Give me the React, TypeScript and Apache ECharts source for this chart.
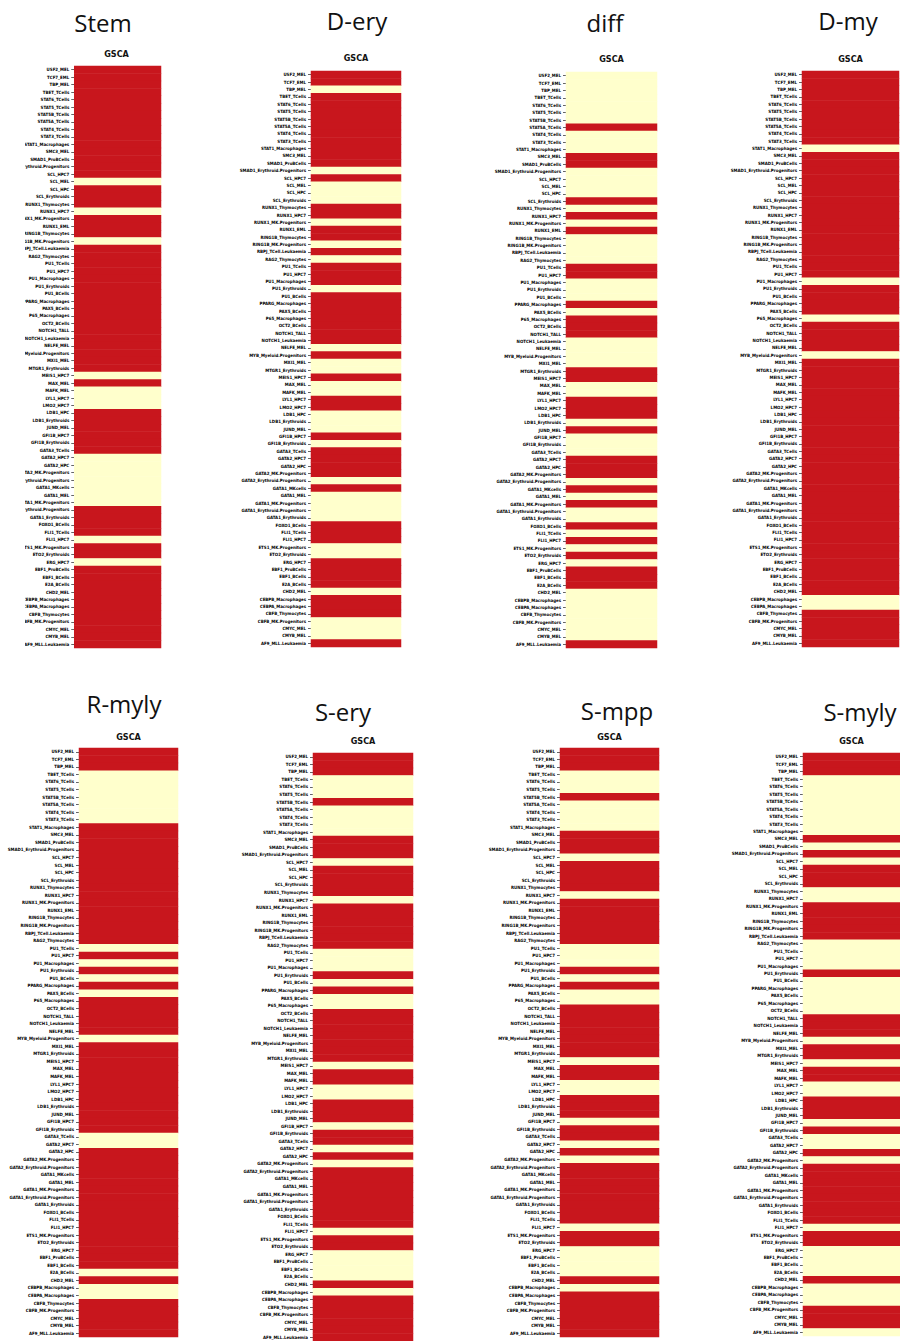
import React, { useEffect, useRef } from "react";
import * as echarts from "echarts";

// Row labels (top to bottom)
const rowLabels = [
  "USF2_MEL", "TCF7_EML", "TBP_MEL", "TBET_TCells", "STAT6_TCells", "STAT5_TCells",
  "STAT5B_TCells", "STAT5A_TCells", "STAT4_TCells", "STAT3_TCells", "STAT1_Macrophages",
  "SMC3_MEL", "SMAD1_ProBCells", "SMAD1_Erythroid.Progenitors", "SCL_HPC7", "SCL_MEL",
  "SCL_HPC", "SCL_Erythroids", "RUNX1_Thymocytes", "RUNX1_HPC7", "RUNX1_MK.Progenitors",
  "RUNX1_EML", "RING1B_Thymocytes", "RING1B_MK.Progenitors", "RBPJ_TCell.Leukaemia",
  "RAG2_Thymocytes", "PU1_TCells", "PU1_HPC7", "PU1_Macrophages", "PU1_Erythroids",
  "PU1_BCells", "PPARG_Macrophages", "PAX5_BCells", "P65_Macrophages", "OCT2_BCells",
  "NOTCH1_TALL", "NOTCH1_Leukaemia", "NELFE_MEL", "MYB_Myeloid.Progenitors", "MXI1_MEL",
  "MTGR1_Erythroids", "MEIS1_HPC7", "MAX_MEL", "MAFK_MEL", "LYL1_HPC7", "LMO2_HPC7",
  "LDB1_HPC", "LDB1_Erythroids", "JUND_MEL", "GFI1B_HPC7", "GFI1B_Erythroids",
  "GATA3_TCells", "GATA2_HPC7", "GATA2_HPC", "GATA2_MK.Progenitors",
  "GATA2_Erythroid.Progenitors", "GATA1_MKcells", "GATA1_MEL", "GATA1_MK.Progenitors",
  "GATA1_Erythroid.Progenitors", "GATA1_Erythroids", "FOXO1_BCells", "FLI1_TCells",
  "FLI1_HPC7", "ETS1_MK.Progenitors", "ETO2_Erythroids", "ERG_HPC7", "EBF1_ProBCells",
  "EBF1_BCells", "E2A_BCells", "CHD2_MEL", "CEBPB_Macrophages", "CEBPA_Macrophages",
  "CBFB_Thymocytes", "CBFB_MK.Progenitors", "CMYC_MEL", "CMYB_MEL", "AF9_MLL.Leukaemia",
];

const columnLabel = ["GSCA"];

// 1 = red (enriched), 0 = cream
const stem = [
  1, 1, 1, 1, 1, 1, 1, 1, 1, 1,
  1, 1, 1, 1, 1, 0, 1, 1, 1, 0,
  1, 1, 1, 0, 1, 1, 1, 1, 1, 1,
  1, 1, 1, 1, 1, 1, 1, 1, 1, 1,
  1, 0, 1, 0, 0, 0, 1, 1, 1, 1,
  1, 1, 0, 0, 0, 0, 0, 0, 0, 1,
  1, 1, 1, 0, 1, 1, 0, 1, 1, 1,
  1, 1, 1, 1, 1, 1, 1, 1,
];
const dEry = [
  1, 1, 0, 1, 1, 1, 1, 1, 1, 1,
  1, 1, 1, 0, 1, 0, 0, 0, 1, 1,
  0, 1, 1, 0, 1, 0, 1, 1, 1, 0,
  1, 1, 1, 1, 1, 1, 1, 0, 1, 0,
  0, 1, 0, 0, 1, 1, 0, 0, 0, 1,
  0, 1, 1, 1, 1, 0, 1, 0, 0, 0,
  0, 1, 1, 1, 0, 0, 1, 1, 1, 1,
  0, 1, 1, 1, 0, 0, 0, 1,
];
const diff = [
  0, 0, 0, 0, 0, 0, 0, 1, 0, 0,
  0, 1, 1, 0, 0, 0, 0, 1, 0, 1,
  0, 1, 0, 0, 0, 0, 1, 1, 0, 0,
  0, 1, 0, 1, 1, 1, 0, 0, 0, 0,
  1, 1, 0, 0, 1, 1, 1, 0, 1, 0,
  0, 0, 1, 1, 1, 0, 1, 0, 1, 0,
  0, 1, 0, 1, 0, 1, 0, 1, 1, 1,
  0, 0, 0, 0, 0, 0, 0, 1,
];
const dMy = [
  1, 1, 1, 1, 1, 1, 1, 1, 1, 1,
  0, 1, 1, 1, 1, 1, 1, 1, 1, 1,
  1, 1, 1, 1, 1, 1, 1, 1, 0, 1,
  1, 1, 1, 0, 1, 1, 1, 1, 0, 1,
  1, 1, 1, 1, 1, 1, 1, 1, 1, 1,
  1, 1, 1, 1, 1, 1, 1, 1, 1, 1,
  1, 1, 1, 1, 1, 1, 1, 1, 1, 1,
  1, 0, 0, 1, 1, 1, 1, 1,
];
const rMyly = [
  1, 1, 1, 0, 0, 0, 0, 0, 0, 0,
  1, 1, 1, 1, 1, 1, 1, 1, 1, 1,
  1, 1, 1, 1, 1, 1, 0, 1, 0, 1,
  0, 1, 0, 1, 1, 1, 1, 1, 0, 1,
  1, 1, 1, 1, 1, 1, 1, 1, 1, 1,
  1, 0, 0, 1, 1, 1, 1, 1, 1, 1,
  1, 1, 1, 1, 1, 1, 1, 1, 1, 0,
  1, 0, 0, 1, 1, 1, 1, 1,
];
const sEry = [
  1, 1, 1, 0, 0, 0, 1, 0, 0, 0,
  0, 1, 1, 1, 0, 1, 1, 1, 1, 0,
  1, 1, 1, 1, 1, 1, 0, 0, 0, 1,
  0, 1, 0, 0, 1, 1, 1, 1, 1, 1,
  1, 0, 1, 1, 0, 0, 1, 1, 1, 0,
  1, 1, 0, 1, 0, 1, 1, 1, 1, 1,
  1, 1, 1, 0, 1, 1, 0, 0, 0, 0,
  1, 0, 1, 1, 1, 1, 1, 1,
];
const sMpp = [
  1, 1, 1, 0, 0, 0, 1, 0, 0, 0,
  0, 1, 1, 1, 0, 1, 1, 1, 1, 0,
  1, 1, 1, 1, 1, 1, 0, 0, 0, 1,
  0, 1, 0, 0, 1, 1, 1, 1, 1, 1,
  1, 0, 1, 1, 0, 0, 1, 1, 1, 0,
  1, 1, 0, 1, 0, 1, 1, 1, 1, 1,
  1, 1, 1, 0, 1, 1, 0, 0, 0, 0,
  1, 0, 1, 1, 1, 1, 1, 1,
];
const sMyly = [
  1, 1, 1, 0, 0, 0, 0, 0, 0, 0,
  0, 1, 0, 1, 0, 1, 1, 1, 0, 0,
  1, 1, 1, 1, 1, 0, 0, 0, 0, 1,
  0, 0, 0, 0, 0, 1, 1, 1, 0, 1,
  1, 0, 1, 1, 0, 0, 1, 1, 1, 0,
  1, 0, 0, 1, 0, 1, 1, 1, 1, 1,
  1, 1, 1, 0, 1, 1, 0, 0, 0, 0,
  1, 0, 0, 0, 1, 1, 1, 0,
];

const panelTitles = ["Stem", "D-ery", "diff", "D-my", "R-myly", "S-ery", "S-mpp", "S-myly"];
const panelValues = [stem, dEry, diff, dMy, rMyly, sEry, sMpp, sMyly];

// layout (page pixels): bar left/right/top/bottom, title centre, subtitle y
const layout = [
  { x0: 72, x1: 161, y0: 66, y1: 648, tx: 103, ty: 22, gy: 54 },
  { x0: 311, x1: 401, y0: 71, y1: 647, tx: 357, ty: 20, gy: 58 },
  { x0: 566, x1: 657, y0: 72, y1: 648, tx: 605, ty: 22, gy: 59 },
  { x0: 802, x1: 899, y0: 71, y1: 647, tx: 848, ty: 20, gy: 59 },
  { x0: 79, x1: 178, y0: 748, y1: 1337, tx: 124, ty: 703, gy: 737 },
  { x0: 313, x1: 413, y0: 753, y1: 1341, tx: 343, ty: 711, gy: 741 },
  { x0: 560, x1: 659, y0: 748, y1: 1337, tx: 617, ty: 710, gy: 737 },
  { x0: 803, x1: 900, y0: 753, y1: 1336, tx: 860, ty: 711, gy: 741 },
];

const RED = "#C8161D";
const CREAM = "#FFFFCC";
const NARROW = "'Liberation Sans Narrow', 'Arial Narrow', 'DejaVu Sans Condensed', sans-serif";

export default function App() {
  const ref = useRef<HTMLDivElement>(null);

  useEffect(() => {
    if (!ref.current) return;
    const chart = echarts.init(ref.current, null, { renderer: "svg" });

    const grid = layout.map((l) => ({
      left: l.x0,
      top: l.y0,
      width: l.x1 - l.x0,
      height: l.y1 - l.y0,
      containLabel: false,
    }));
    const xAxis = layout.map((_, i) => ({
      type: "category",
      gridIndex: i,
      data: columnLabel,
      show: false,
    }));
    const yAxis = layout.map((_, i) => ({
      type: "category",
      gridIndex: i,
      data: rowLabels,
      inverse: true,
      axisLine: { show: false },
      axisTick: {
        show: true,
        length: 3,
        alignWithLabel: true,
        lineStyle: { color: "#222", width: 0.7 },
      },
      splitLine: { show: false },
      axisLabel: {
        interval: 0,
        fontSize: 4.4,
        fontWeight: "bold",
        fontFamily: NARROW,
        color: "#000",
        margin: 5,
      },
    }));
    const series = panelValues.map((vals, i) => ({
      type: "heatmap",
      name: panelTitles[i],
      xAxisIndex: i,
      yAxisIndex: i,
      data: vals.map((v, r) => [0, r, v]),
      emphasis: { disabled: true },
      progressive: 0,
    }));

    const graphic: any[] = [];
    layout.forEach((l, i) => {
      graphic.push({
        type: "text",
        x: l.tx,
        y: l.ty,
        style: {
          text: panelTitles[i],
          fontSize: 24,
          fontFamily: "'Open Sans', sans-serif",
          fill: "#111",
          textAlign: "center",
          textVerticalAlign: "middle",
        },
      });
      graphic.push({
        type: "text",
        x: (l.x0 + l.x1) / 2,
        y: l.gy,
        style: {
          text: columnLabel[0],
          fontSize: 9,
          fontWeight: "bold",
          fontFamily: NARROW,
          fill: "#111",
          textAlign: "center",
          textVerticalAlign: "middle",
        },
      });
    });
    // the reference panel is cropped on its left edge
    graphic.push({
      type: "rect",
      z: 100,
      shape: { x: 0, y: 62, width: 25, height: 592 },
      style: { fill: "#ffffff" },
    });

    chart.setOption({
      animation: false,
      backgroundColor: "#ffffff",
      tooltip: { show: false },
      grid,
      xAxis,
      yAxis,
      visualMap: {
        type: "piecewise",
        show: false,
        dimension: 2,
        seriesIndex: panelValues.map((_, i) => i),
        pieces: [
          { value: 0, color: CREAM },
          { value: 1, color: RED },
        ],
      },
      series,
      graphic,
    });

    return () => chart.dispose();
  }, []);

  return (
    <div
      ref={ref}
      style={{ position: "absolute", left: 0, top: 0, width: 900, height: 1341, background: "#fff" }}
    />
  );
}
